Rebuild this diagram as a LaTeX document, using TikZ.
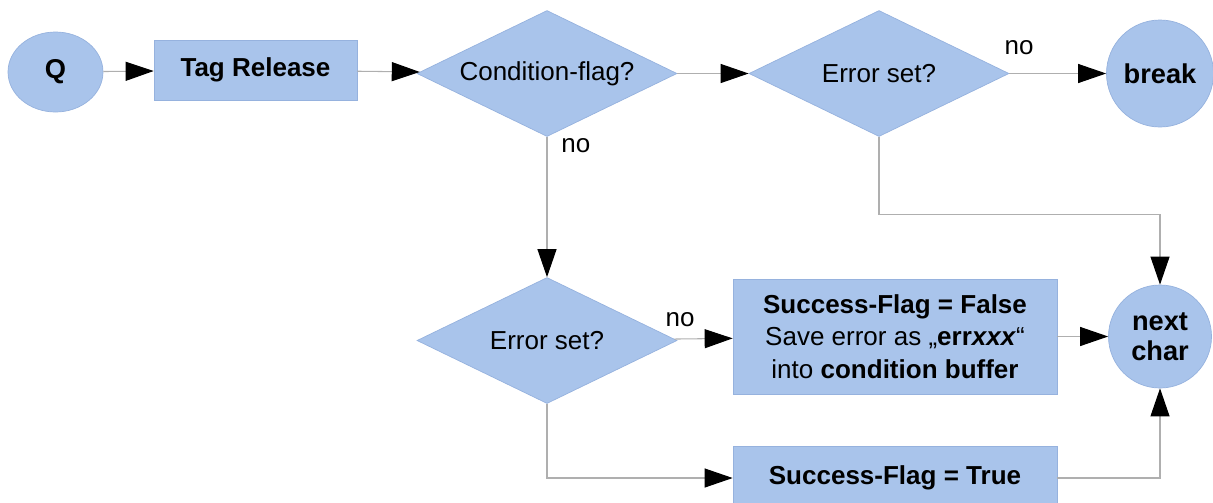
\documentclass[tikz,border=0pt]{standalone}
\usepackage{fontspec}
\setmainfont{Liberation Sans}
\usepackage{xcolor}
\definecolor{boxfill}{RGB}{169,196,235}
\definecolor{boxline}{RGB}{150,178,222}
\definecolor{wire}{RGB}{175,175,175}
\newcommand{\flowfont}{\fontsize{14.8}{18.5}\selectfont}
\usetikzlibrary{shapes.geometric}
\usetikzlibrary{arrows.meta}

\begin{document}
\begin{tikzpicture}[
  every node/.style={font=\flowfont},
  block/.style={rectangle, fill=boxfill, draw=boxline, line width=0.4pt, minimum width=6.48cm, align=center},
  decision/.style={diamond, aspect=2.06, fill=boxfill, draw=boxline, line width=0.4pt, minimum width=5.2cm, minimum height=2.52cm, inner sep=0pt},
  terminal/.style={circle, fill=boxfill, draw=boxline, line width=0.4pt, minimum size=2.1cm, inner sep=0pt, align=center, font=\fontsize{15.5}{17}\selectfont\bfseries},
  flow/.style={draw=wire, line width=0.6pt, -{Triangle[length=5.6mm, width=3.8mm, color=black]}},
  ]

\useasboundingbox (0,0) rectangle (24.26,-10.04);

% top row
  \node[terminal, ellipse, minimum width=1.9cm, minimum height=1.6cm] (q) at (1.11,-1.44) {Q};
  \node[block, minimum width=4.06cm, minimum height=1.2cm, font=\flowfont\bfseries] (tag) at (5.11,-1.40) {Tag Release};
  \node[decision] (cond) at (10.94,-1.47) {Condition-flag?};
  \node[decision] (err1) at (17.58,-1.47) {Error set?};
  \node[terminal, minimum size=2.14cm] (brk) at (23.2,-1.47) {break};

% lower part
  \node[decision] (err2) at (10.94,-6.81) {Error set?};
  \node[block, minimum height=2.3cm] (false) at (17.9,-6.73) {\textbf{Success-Flag = False}\\ Save error as „\textbf{err\textit{xxx}}“\\ into \textbf{condition buffer}};
  \node[terminal, minimum size=2.06cm] (next) at (23.2,-6.73) {next\\ char};
  \node[block, minimum height=1.28cm, font=\flowfont\bfseries] (true) at (17.9,-9.56) {Success-Flag = True};

% connectors
  \draw[flow] (q) -- (tag);
  \draw[flow] (tag) -- (cond);
  \draw[flow] (cond) -- (err1);
  \draw[flow] (err1) -- node[above=0.24cm, pos=0.1] (no1) {no} (brk);
  \draw[flow] (cond) -- node[right=0.16cm, pos=0.06] (no2) {no} (err2);
  \draw[flow] (err2) -- node[above=0.12cm, pos=0.1] (no3) {no} (false);
  \draw[flow] (false) -- (next);
  \draw[flow] (err1.south) -- ++(0,-1.55) -| (next.north);
  \draw[flow] (err2.south) |- (true.west);
  \draw[flow] (true.east) -| (next.south);

\end{tikzpicture}
\end{document}
